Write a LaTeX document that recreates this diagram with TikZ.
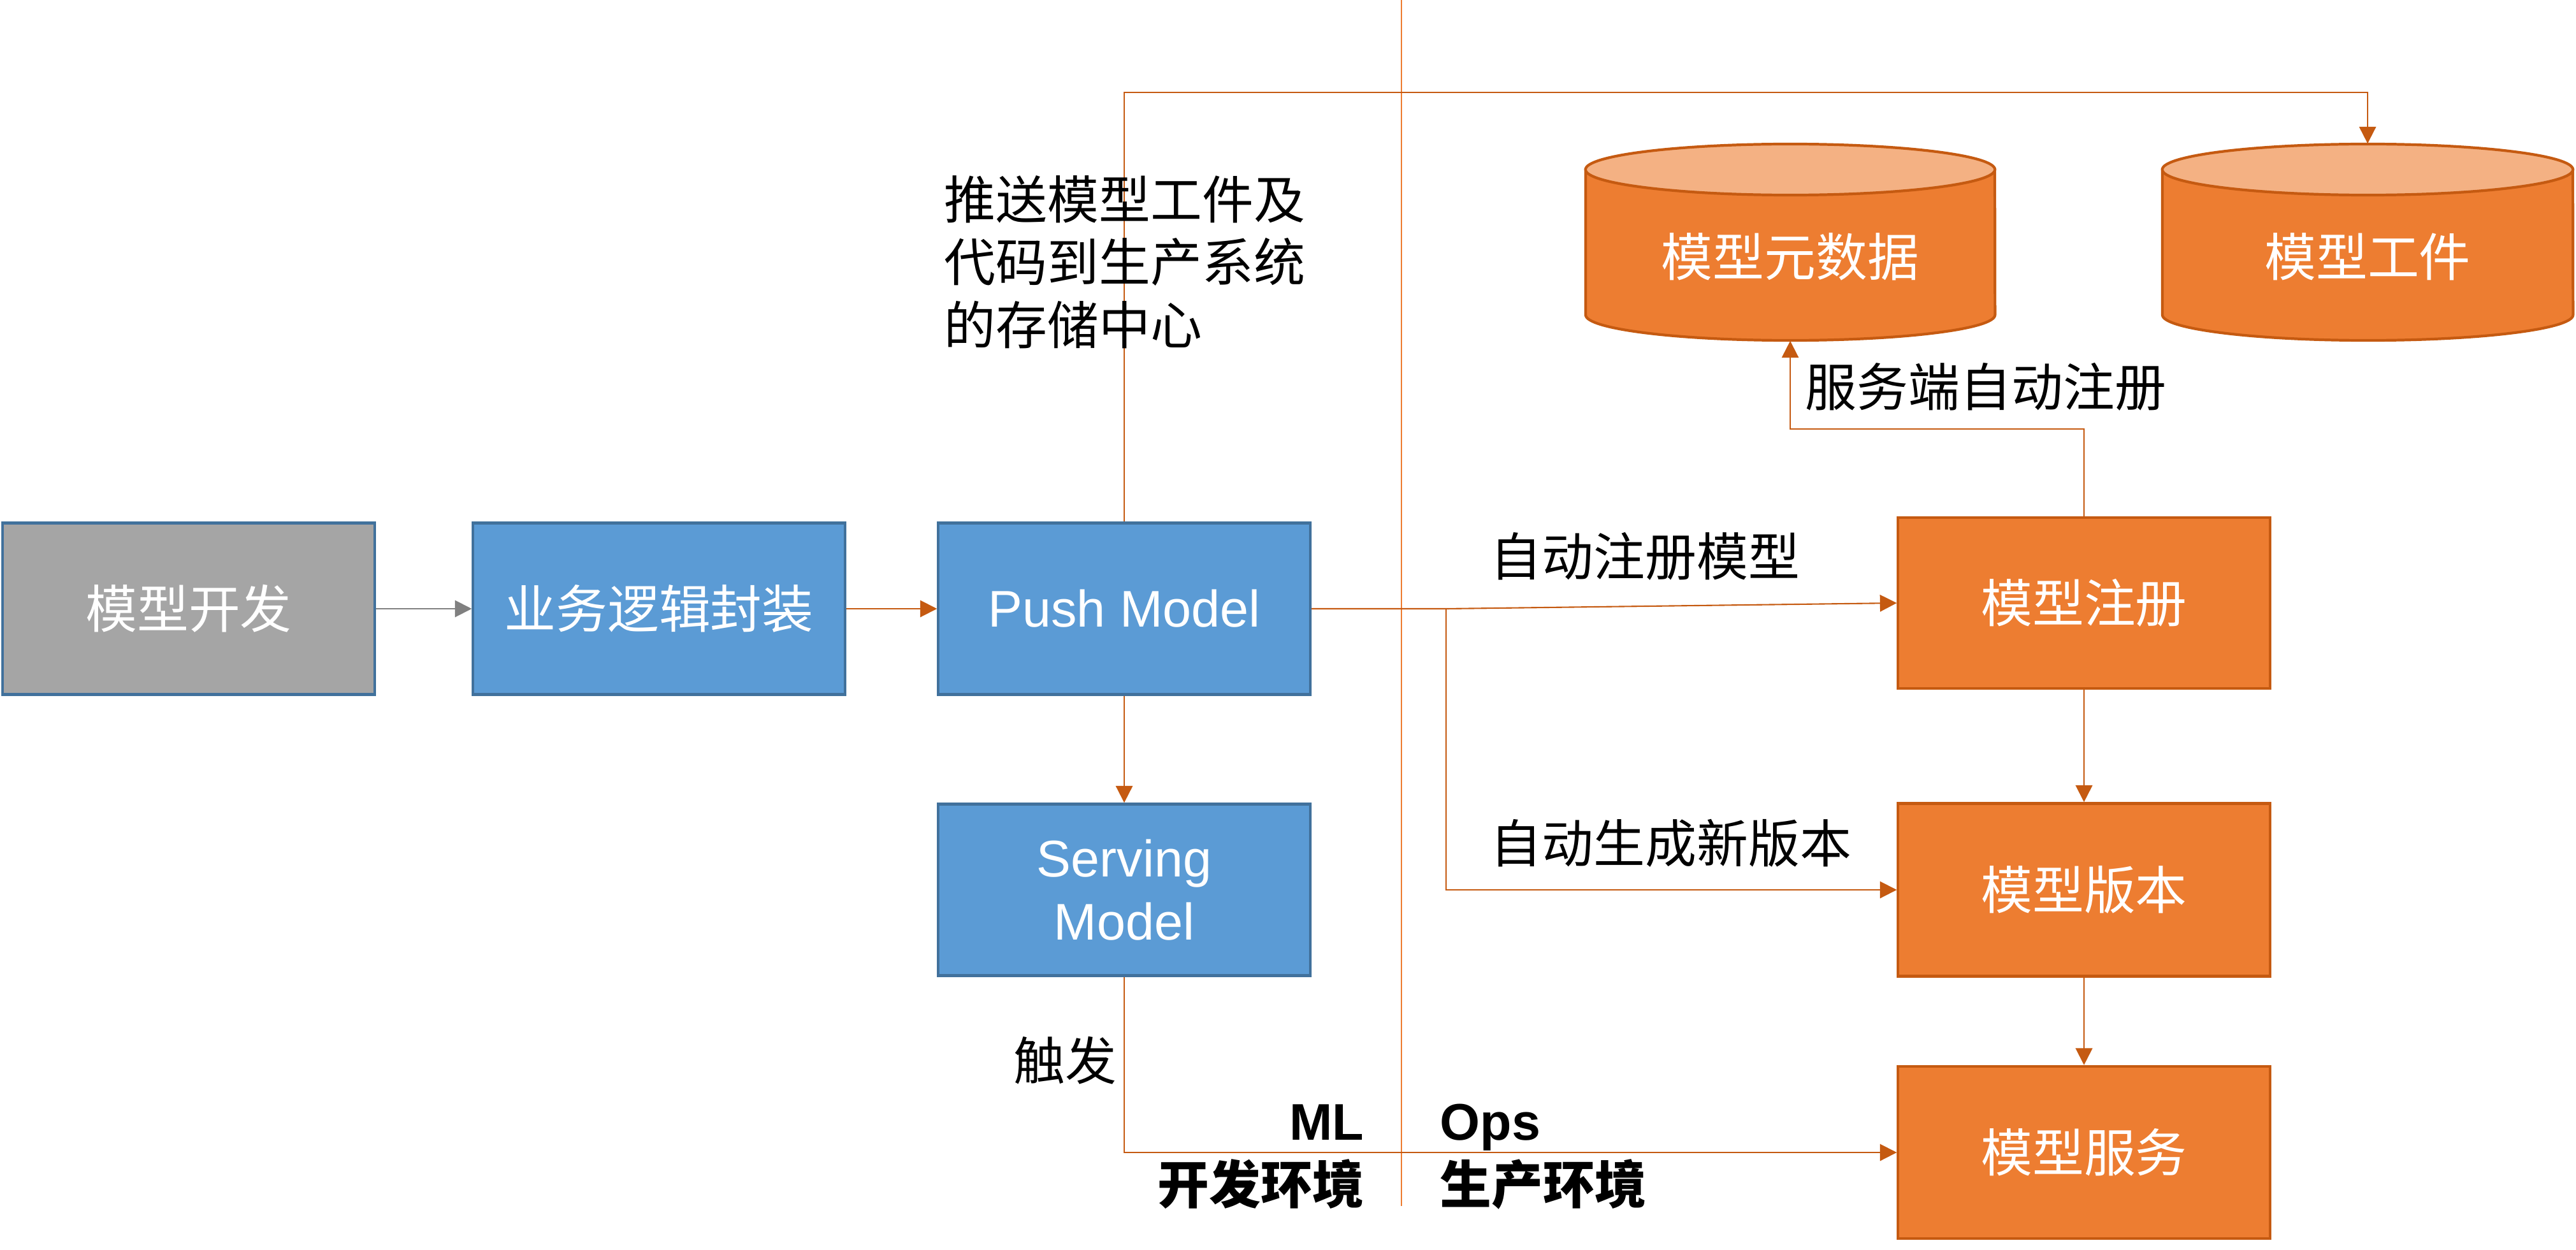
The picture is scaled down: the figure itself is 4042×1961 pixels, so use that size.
\documentclass[tikz,border=0pt]{standalone}
\usepackage{fontspec}
\setmainfont{Liberation Sans}
\newfontfamily\cjk{Noto Sans CJK SC}
\usetikzlibrary{arrows.meta}
\definecolor{blueF}{HTML}{5B9BD5}
\definecolor{blueD}{HTML}{41719C}
\definecolor{grayF}{HTML}{A5A5A5}
\definecolor{orgF}{HTML}{ED7D31}
\definecolor{orgD}{HTML}{C55A11}
\definecolor{orgL}{HTML}{F4B183}
\begin{document}
\begin{tikzpicture}[x=0.01cm,y=-0.01cm,
  box/.style={draw, line width=1.2pt, minimum width=5.83cm, minimum height=2.69cm, text=white, align=center, inner sep=0pt, font=\fontsize{23}{28}\selectfont},
  cbox/.style={box, font=\cjk\fontsize{23}{28}\selectfont},
  bluebox/.style={fill=blueF, draw=blueD},
  graybox/.style={fill=grayF, draw=blueD},
  orgbox/.style={fill=orgF, draw=orgD},
  conn/.style={draw=orgD, line width=0.6pt, -{Triangle[length=7.5pt,width=7.5pt]}},
  gconn/.style={draw=gray, line width=0.6pt, -{Triangle[length=7.5pt,width=7.5pt]}},
  lbl/.style={font=\cjk\fontsize{23}{28}\selectfont, text=black, inner sep=0pt},
  blbl/.style={font=\cjk\bfseries\fontsize{23}{28}\selectfont, text=black, inner sep=0pt},
  llbl/.style={font=\bfseries\fontsize{23}{28}\selectfont, text=black, inner sep=0pt},
  cyl/.style={fill=orgF, draw=orgD, line width=1.2pt},
  cyltop/.style={fill=orgL, draw=orgD, line width=1.2pt},
]
\useasboundingbox (0,0) rectangle (4042,1961);

% divider
\coordinate (divtop) at (2199,0);
\coordinate (divbot) at (2199,1892);
\draw[orgF, line width=0.6pt] (divtop) -- (divbot);

% cylinders
\draw[cyl] (2488,266) -- (2488,494) arc[start angle=180,end angle=360,x radius=3.21cm,y radius=0.4cm] -- (3130,266) -- cycle;
\draw[cyltop] (2809,266) ellipse [x radius=3.21cm, y radius=0.4cm];
\node[minimum width=6.42cm, minimum height=3.08cm, inner sep=0pt] (meta) at (2809,380) {};
\node[text=white, font=\cjk\fontsize{23}{28}\selectfont, inner sep=0pt] (metal) at (2809,403) {模型元数据};

\draw[cyl] (3393,266) -- (3393,494) arc[start angle=180,end angle=360,x radius=3.22cm,y radius=0.4cm] -- (4037,266) -- cycle;
\draw[cyltop] (3715,266) ellipse [x radius=3.22cm, y radius=0.4cm];
\node[minimum width=6.44cm, minimum height=3.08cm, inner sep=0pt] (art) at (3715,380) {};
\node[text=white, font=\cjk\fontsize{23}{28}\selectfont, inner sep=0pt] (artl) at (3715,403) {模型工件};

% boxes
\node[cbox, graybox] (dev) at (296,955) {模型开发};
\node[cbox, bluebox] (biz) at (1034,955) {业务逻辑封装};
\node[box, bluebox] (push) at (1764,955) {Push Model};
\node[box, bluebox] (serving) at (1764,1396) {Serving\\Model};
\node[cbox, orgbox, minimum height=2.68cm] (register) at (3270,946) {模型注册};
\node[cbox, orgbox, minimum height=2.71cm] (version) at (3270,1396) {模型版本};
\node[cbox, orgbox, minimum height=2.70cm] (service) at (3270,1808) {模型服务};

% connectors
\draw[gconn] (dev) -- (biz);
\draw[conn] (biz) -- (push);
\draw[conn] (push) -- (serving);
\coordinate (br) at (2269,955);
\draw[conn] (push.east) -- (br) -- (register.west);
\draw[conn] (br) |- (version.west);
\draw[conn] (register) -- (version);
\draw[conn] (version) -- (service);
\coordinate (topturn) at (3715,145);
\draw[conn] (push.north) |- (topturn) -- (art.north);
\coordinate (regturn) at (2809,673);
\draw[conn] (register.north) |- (regturn) -- (meta.south);
\draw[conn] (serving.south) |- (service.west);

% labels
\node[lbl, anchor=west, align=left] (pushlbl) at (1481,411) {推送模型工件及\\代码到生产系统\\的存储中心};
\node[lbl, anchor=west] (l1) at (2338,873) {自动注册模型};
\node[lbl, anchor=west] (l2) at (2338,1323) {自动生成新版本};
\node[lbl, anchor=west] (l3) at (2832,607) {服务端自动注册};
\node[lbl, anchor=east] (l4) at (1753,1664) {触发};
\node[llbl, anchor=base east] (ml) at (2141,1788) {ML};
\node[llbl, anchor=base west] (ops) at (2259,1788) {Ops};
\node[blbl, anchor=east] (devenv) at (2141,1858) {开发环境};
\node[blbl, anchor=west] (prodenv) at (2259,1858) {生产环境};
\end{tikzpicture}
\end{document}
